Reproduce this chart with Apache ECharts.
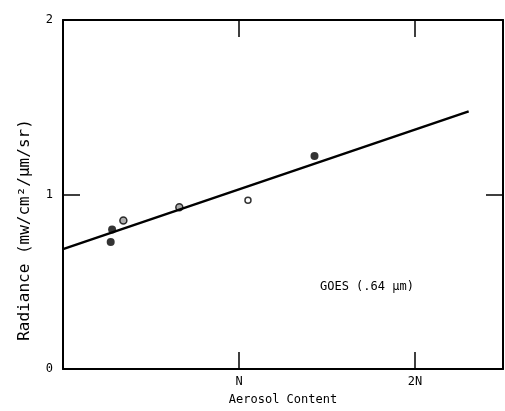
<!DOCTYPE html>
<html>
<head>
<meta charset="utf-8">
<script src="https://cdn.jsdelivr.net/npm/echarts@6/dist/echarts.min.js"></script>
<style>
  html, body { margin: 0; padding: 0; background: #fff; }
  #chart { width: 505px; height: 411px; }
</style>
</head>
<body>
<div id="chart"></div>
<script>
// aerosol content in units of N, radiance in mw/cm2/um/sr
var filledPts = [[0.279, 0.799], [0.271, 0.728], [1.429, 1.221]];
var hatchedPts = [[0.343, 0.851], [0.661, 0.927]];
var openPts = [[1.051, 0.967]];
var fitLine = [[0, 0.687], [2.305, 1.476]];
var xTicks = [1, 2];
var xTickLabels = {1: 'N', 2: '2N'};
var yTicks = [1];
var yTickLabels = [0, 1, 2];

var font = '"DejaVu Sans Mono", "Liberation Mono", monospace';

var myChart = echarts.init(document.getElementById('chart'));

var tickStyle = function (vals) {
    return { show: true, inside: true, length: 17, customValues: vals,
             lineStyle: { color: '#000', width: 1.5 } };
};
var lineStyle = { color: '#000', width: 2 };

option = {
    animation: false,
    backgroundColor: '#fff',
    grid: { left: 63, right: 2, top: 20, bottom: 40 },
    xAxis: [{
        type: 'value', min: 0, max: 2.5, interval: 1,
        splitLine: { show: false },
        axisLine: { onZero: false, lineStyle: lineStyle },
        axisTick: tickStyle(xTicks),
        axisLabel: {
            margin: 7, color: '#000', fontFamily: font, fontSize: 12,
            customValues: xTicks,
            formatter: function (v) { return xTickLabels[v] || ''; }
        },
        name: 'Aerosol Content', nameLocation: 'middle', nameGap: 25,
        nameTextStyle: { color: '#000', fontFamily: font, fontSize: 12 }
    }, {
        type: 'value', position: 'top', min: 0, max: 2.5, interval: 1,
        splitLine: { show: false },
        axisLine: { onZero: false, lineStyle: lineStyle },
        axisTick: tickStyle(xTicks),
        axisLabel: { show: false }
    }],
    yAxis: [{
        type: 'value', min: 0, max: 2, interval: 1,
        splitLine: { show: false },
        axisLine: { onZero: false, lineStyle: lineStyle },
        axisTick: tickStyle(yTicks),
        axisLabel: {
            margin: 10, color: '#000', fontFamily: font, fontSize: 12,
            customValues: yTickLabels
        }
    }, {
        type: 'value', position: 'right', min: 0, max: 2, interval: 1,
        splitLine: { show: false },
        axisLine: { onZero: false, lineStyle: lineStyle },
        axisTick: tickStyle(yTicks),
        axisLabel: { show: false }
    }],
    graphic: [{
        type: 'text', x: 25, y: 230, rotation: Math.PI / 2,
        style: {
            text: 'Radiance (mw/cm²/µm/sr)',
            font: '16px ' + font, fill: '#000',
            align: 'center', verticalAlign: 'middle'
        }
    }, {
        type: 'text', x: 320, y: 287,
        style: {
            text: 'GOES (.64 µm)',
            font: '12px ' + font, fill: '#000',
            align: 'left', verticalAlign: 'middle'
        }
    }],
    series: [{
        type: 'line', data: fitLine, showSymbol: false, silent: true,
        lineStyle: { color: '#000', width: 2.5 }
    }, {
        type: 'scatter', data: filledPts, symbol: 'circle', symbolSize: 8,
        itemStyle: { color: '#000' }
    }, {
        type: 'scatter', data: hatchedPts, symbol: 'circle', symbolSize: 7,
        itemStyle: { color: '#999', borderColor: '#000', borderWidth: 1.5 }
    }, {
        type: 'scatter', data: openPts, symbol: 'circle', symbolSize: 6,
        itemStyle: { color: '#fff', borderColor: '#000', borderWidth: 1.5 }
    }]
};
myChart.setOption(option);
</script>
</body>
</html>
